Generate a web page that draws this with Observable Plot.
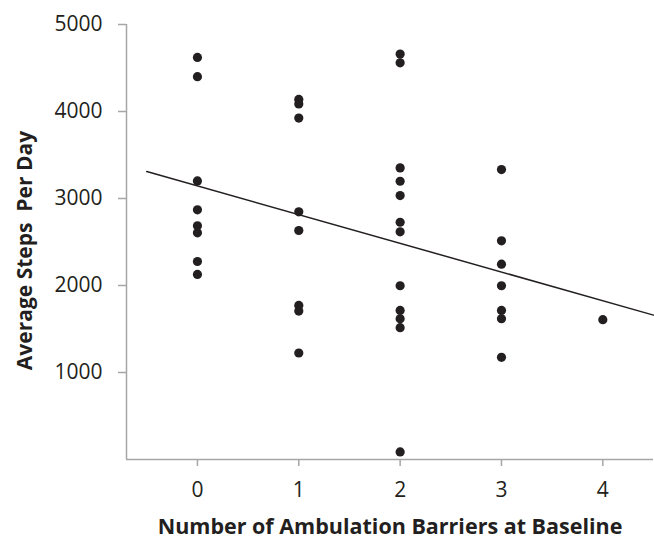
<!DOCTYPE html>
<html>
<head>
<meta charset="utf-8">
<script src="https://cdn.jsdelivr.net/npm/d3@7"></script>
<script src="https://cdn.jsdelivr.net/npm/@observablehq/plot@0.6"></script>
<style>
  html, body { margin: 0; padding: 0; background: #fff; }
  svg { display: block; }
</style>
</head>
<body>
<div id="chart"></div>
<script>
// Number of ambulation barriers at baseline (x) and average steps per day (y)
const barriers0 = [4621, 4400, 3202, 2870, 2686, 2606, 2276, 2127];
const barriers1 = [4139, 4086, 3925, 2847, 2632, 1771, 1706, 1224];
const barriers2 = [4660, 4560, 3352, 3198, 3034, 2727, 2617, 1997, 1714, 1618, 1515, 87];
const barriers3 = [3332, 2514, 2245, 1997, 1714, 1618, 1174];
const barriers4 = [1607];

const xTicks = [0, 1, 2, 3, 4];
const yTicks = [1000, 2000, 3000, 4000, 5000];
const xDomain = [-0.7, 4.5];
const yDomain = [0, 5000];
const trendExtent = [-0.5, 4.5];

const xTitle = "Number of Ambulation Barriers at Baseline";
const yTitle = "Average Steps\u00a0\u00a0Per Day";

const groups = [barriers0, barriers1, barriers2, barriers3, barriers4];
const points = groups.flatMap((vals, i) => vals.map(v => ({x: i, y: v})));

// ordinary least-squares fit of the points
const mx = d3.mean(points, d => d.x);
const my = d3.mean(points, d => d.y);
const sxy = d3.sum(points, d => (d.x - mx) * (d.y - my));
const sxx = d3.sum(points, d => (d.x - mx) ** 2);
const slope = sxy / sxx;
const intercept = my - slope * mx;
const trend = trendExtent.map(x => ({x, y: intercept + slope * x}));

const axisColor = "#a6a6a6";
const textColor = "#231f20";

const chart = Plot.plot({
  width: 654,
  height: 538,
  marginLeft: 126,
  marginRight: 1,
  marginTop: 24,
  marginBottom: 79,
  style: {fontFamily: "'Open Sans', sans-serif", fontSize: "21px", color: textColor, background: "#fff"},
  x: {domain: xDomain},
  y: {domain: yDomain},
  marks: [
    Plot.ruleX([xDomain[0]], {stroke: axisColor, strokeWidth: 1.5}),
    Plot.ruleY([yDomain[0]], {stroke: axisColor, strokeWidth: 1.5}),
    Plot.axisY({ticks: yTicks, tickFormat: d3.format("d"), tickSize: 8, tickPadding: 16, stroke: axisColor, strokeWidth: 1.5, fontSize: 21, fill: textColor, label: null}),
    Plot.axisX({ticks: xTicks, tickFormat: d3.format("d"), tickSize: 7, tickPadding: 16, stroke: axisColor, strokeWidth: 1.5, fontSize: 21, fill: textColor, label: null}),
    Plot.line(trend, {x: "x", y: "y", stroke: "#231f20", strokeWidth: 1.5}),
    Plot.dot(points, {x: "x", y: "y", r: 4.6, fill: "#231f20", stroke: "none"}),
    Plot.text([yTitle], {frameAnchor: "left", textAnchor: "middle", rotate: -90, dx: -101, dy: 8.5, fontSize: 21, fontWeight: "bold", fill: textColor}),
    Plot.text([xTitle], {frameAnchor: "bottom", textAnchor: "middle", dy: 74, fontSize: 21.5, fontWeight: "bold", fill: textColor})
  ]
});
document.getElementById("chart").appendChild(chart);
</script>
</body>
</html>
